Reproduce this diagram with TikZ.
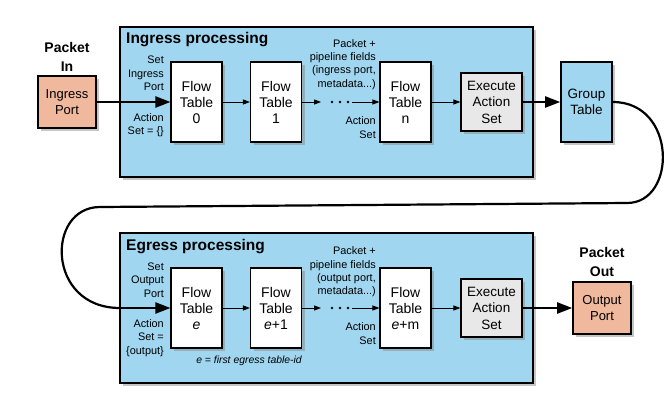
\documentclass[tikz,border=0pt]{standalone}
\usepackage{fontspec}
\setmainfont{Liberation Sans}
\usetikzlibrary{arrows.meta,shadows,calc}
\definecolor{procblue}{HTML}{A0D6F0}
\definecolor{portsalmon}{HTML}{F0B89C}
\definecolor{execgray}{HTML}{E8E8E8}
\tikzset{
  shad/.style={drop shadow={opacity=0.45,shadow xshift=3pt,shadow yshift=-3pt}},
  stage/.style={draw=black,line width=1.6pt,fill=procblue,shad,minimum width=413pt,minimum height=150pt,inner sep=0pt},
  port/.style={draw=black,line width=1.6pt,fill=portsalmon,shad,minimum width=58pt,minimum height=52pt,inner sep=0pt,align=center,font=\fontsize{13}{15.5}\selectfont},
  flowtab/.style={draw=black,line width=1.1pt,fill=white,shad,minimum width=51pt,minimum height=80pt,inner sep=0pt,align=center,font=\fontsize{14}{16}\selectfont},
  execbox/.style={draw=black,line width=1.1pt,fill=execgray,shad,minimum width=61pt,minimum height=58pt,inner sep=0pt,align=center,font=\fontsize{13.5}{16.5}\selectfont},
  grpbox/.style={draw=black,line width=1.6pt,fill=procblue,shad,minimum width=51pt,minimum height=80pt,inner sep=0pt,align=center,font=\fontsize{13.5}{16}\selectfont},
  lbl/.style={anchor=east,align=right,inner sep=0pt,font=\fontsize{10.9}{13.3}\selectfont},
  title/.style={anchor=west,inner sep=0pt,font=\bfseries\fontsize{15.5}{17}\selectfont},
  pkt/.style={align=center,inner sep=0pt,font=\bfseries\fontsize{14}{19}\selectfont},
  thickarr/.style={line width=2.2pt,-{Triangle[length=15pt,width=11pt]}},
  thinarr/.style={line width=0.9pt,-{Triangle[length=7pt,width=5pt]}},
  dotc/.style={fill=black},
}
\begin{document}
\begin{tikzpicture}[x=1pt,y=-1pt]
\useasboundingbox (0,0) rectangle (672,413);
% stages
\node[stage] (ing) at (326.5,102) {};
\node[stage] (egr) at (326.5,308) {};
\node[title] (ingt) at (126,40) {Ingress processing};
\node[title] (egrt) at (126,247) {Egress processing};
% ingress
\node[pkt] (pin) at (67,56.5) {Packet\\In};
\node[port] (inport) at (67,102) {Ingress\\Port};
\node[flowtab] (ft0) at (196.5,102) {Flow\\Table\\0};
\node[flowtab] (ft1) at (276,102) {Flow\\Table\\1};
\node[flowtab] (ftn) at (405.5,102) {Flow\\Table\\n};
\node[execbox] (ex1) at (491.5,102) {Execute\\Action\\Set};
\node[grpbox] (grp) at (586.5,102) {Group\\Table};
\node[lbl] (l1) at (164,73.5) {Set\\Ingress\\Port};
\node[lbl] (l2) at (164,125.5) {Action\\Set = \{\}};
\node[lbl] (l3) at (376,64.5) {Packet +\\pipeline fields\\(ingress port,\\metadata...)};
\node[lbl] (l4) at (376,127.5) {Action\\Set};
% egress
\node[flowtab] (fte) at (196.5,308) {Flow\\Table\\\textit{e}};
\node[flowtab] (fte1) at (276,308) {Flow\\Table\\\textit{e}+1};
\node[flowtab] (ftem) at (405.5,308) {Flow\\Table\\\textit{e}+m};
\node[execbox] (ex2) at (491.5,308) {Execute\\Action\\Set};
\node[pkt] (pout) at (602,262) {Packet\\Out};
\node[port] (outport) at (602,308) {Output\\Port};
\node[lbl] (l5) at (164,280) {Set\\Output\\Port};
\node[lbl] (l6) at (164,338) {Action\\Set =\\\{output\}};
\node[lbl] (l7) at (376,272) {Packet +\\pipeline fields\\(output port,\\metadata...)};
\node[lbl] (l8) at (376,333.5) {Action\\Set};
\node[inner sep=0pt,font=\itshape\fontsize{10.4}{12}\selectfont] (note) at (249,361) {e = first egress table-id};
% connectors ingress
\draw[thickarr] (inport.east) -- (ft0.west);
\draw[thinarr] (ft0.east) -- (ft1.west);
\draw[thinarr] (ft1.east) -- ($(ft1.east)+(19,0)$);
\foreach \dx in {30,38,46} \fill[dotc] ($(ft1.east)+(\dx,0)$) circle (1.4);
\draw[thinarr] ($(ftn.west)-(27,0)$) -- (ftn.west);
\draw[thinarr] (ftn.east) -- (ex1.west);
\draw[thickarr] (ex1.east) -- (grp.west);
% loop
\coordinate (cr) at (627,203);
\coordinate (cl) at (100,207);
\coordinate (ce) at (120,308);
\draw[line width=2.2pt] (grp.east) .. controls (677,102) and (677,203) .. (cr) -- (cl) .. controls (46,207) and (46,308) .. (ce);
\draw[thickarr] (ce) -- (fte.west);
% connectors egress
\draw[thinarr] (fte.east) -- (fte1.west);
\draw[thinarr] (fte1.east) -- ($(fte1.east)+(19,0)$);
\foreach \dx in {30,38,46} \fill[dotc] ($(fte1.east)+(\dx,0)$) circle (1.4);
\draw[thinarr] ($(ftem.west)-(27,0)$) -- (ftem.west);
\draw[thinarr] (ftem.east) -- (ex2.west);
\draw[thickarr] (ex2.east) -- (outport.west);
\end{tikzpicture}
\end{document}
